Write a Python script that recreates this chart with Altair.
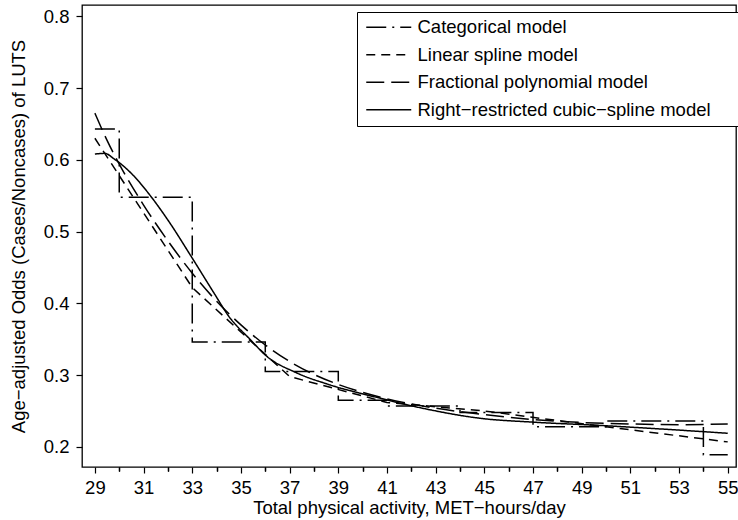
import altair as alt
import pandas as pd

models = ["Categorical model", "Linear spline model",
          "Fractional polynomial model", "Right−restricted cubic−spline model"]

# Categorical model (step function)
cat_x = [29, 30, 33, 36, 39, 41, 44, 47, 50, 54, 55]
cat_y = [0.643, 0.548, 0.346, 0.305, 0.265, 0.257, 0.248, 0.228, 0.236, 0.189, 0.189]

# Linear spline model
ls_x = [29, 33, 37, 41, 45, 50, 55]
ls_y = [0.630, 0.422, 0.298, 0.262, 0.250, 0.228, 0.207]

# Fractional polynomial model
fp_x = [29, 29.5, 30, 31, 32, 33, 34, 35, 36, 37, 38, 39, 40, 41, 43, 45, 47, 49, 51, 53, 55]
fp_y = [0.665, 0.627, 0.594, 0.537, 0.487, 0.442, 0.403, 0.370, 0.342, 0.319, 0.301,
        0.287, 0.276, 0.267, 0.254, 0.245, 0.238, 0.234, 0.232, 0.231, 0.232]

# Right-restricted cubic-spline model
rcs_x = [29, 29.4, 29.8, 30.5, 31.3, 32.0, 33.0, 33.9, 34.5, 35.4, 36.0,
         37.3, 38.6, 40.7, 42.8, 44.8, 47.0, 49.7, 52.0, 55.0]
rcs_y = [0.608, 0.609, 0.601, 0.581, 0.549, 0.516, 0.463, 0.414, 0.382, 0.349, 0.328,
         0.303, 0.287, 0.268, 0.2515, 0.240, 0.2345, 0.230, 0.2255, 0.219]

major_ticks = [29, 31, 33, 35, 37, 39, 41, 43, 45, 47, 49, 51, 53, 55]
minor_ticks = [30, 32, 34, 36, 38, 40, 42, 44, 46, 48, 50, 52, 54]
y_ticks = [0.2, 0.3, 0.4, 0.5, 0.6, 0.7, 0.8]

dashes = [[20, 6, 2, 6], [9, 6], [18, 7], [1, 0]]

rows = []
for name, xs, ys in zip(models, [cat_x, ls_x, fp_x, rcs_x], [cat_y, ls_y, fp_y, rcs_y]):
    for xv, yv in zip(xs, ys):
        rows.append({"model": name, "x": xv, "y": yv})
df = pd.DataFrame(rows)

FONT = "Liberation Sans"
FS = 18.5

xscale = alt.Scale(domain=[28.47, 55.34], nice=False, zero=False)
yscale = alt.Scale(domain=[0.172, 0.8157], nice=False, zero=False)

common = dict(labelFont=FONT, labelFontSize=FS, labelColor="black", tickColor="black",
              tickWidth=1.2, titleFont=FONT, titleFontSize=FS, titleFontWeight="normal",
              titleColor="black", domain=False, grid=False)

x_major = alt.Axis(values=major_ticks, format="d", tickSize=6, labelPadding=5,
                   orient="bottom", title="Total physical activity, MET−hours/day",
                   titleX=327, titleY=46, titleBaseline="alphabetic", titleAlign="center",
                   **common)
x_minor = alt.Axis(values=minor_ticks, labels=False, tickSize=4, orient="bottom", title=None,
                   **common)
y_axis = alt.Axis(values=y_ticks, format=".1f", tickSize=6, labelPadding=7,
                  title="Age−adjusted Odds (Cases/Noncases) of LUTS",
                  titleAngle=270, titleX=-64, titleY=231, titleAlign="center",
                  titleBaseline="middle", **common)

BLANK = "\u2800"
legend = alt.Legend(orient="none", legendX=275, legendY=7, direction="vertical", title=None,
                    symbolType="M-1,0H6.5", symbolSize=144, symbolStrokeWidth=1.5,
                    symbolStrokeColor="black", symbolFillColor="transparent",
                    labelFontSize=FS, labelFont=FONT, labelColor="black", labelOffset=36,
                    labelLimit=0, padding=6, rowPadding=8.5, strokeColor="black",
                    fillColor="white", cornerRadius=0,
                    labelExpr="datum.label + '" + BLANK * 2 + "'")

dash_enc = alt.StrokeDash("model:N", scale=alt.Scale(domain=models, range=dashes), legend=legend)

def layer(name, interp, axis_x):
    return alt.Chart(df).transform_filter(alt.datum.model == name).mark_line(
        interpolate=interp, color="black", strokeWidth=1.5, clip=True
    ).encode(
        x=alt.X("x:Q", scale=xscale, axis=axis_x),
        y=alt.Y("y:Q", scale=yscale, axis=y_axis),
        strokeDash=dash_enc,
        order="x:Q",
    )

chart = alt.layer(
    layer(models[0], "step-after", x_major),
    layer(models[1], "linear", x_minor),
    layer(models[2], "monotone", x_minor),
    layer(models[3], "monotone", x_minor),
).resolve_axis(x="independent").properties(
    width=654, height=462,
    background="white",
    autosize=alt.AutoSizeParams(type="none"),
    padding={"left": 82, "top": 5, "right": 2, "bottom": 53},
).configure_view(stroke="black", strokeWidth=1.3)

chart.save("out.html", embed_options={"renderer": "svg", "actions": False})
